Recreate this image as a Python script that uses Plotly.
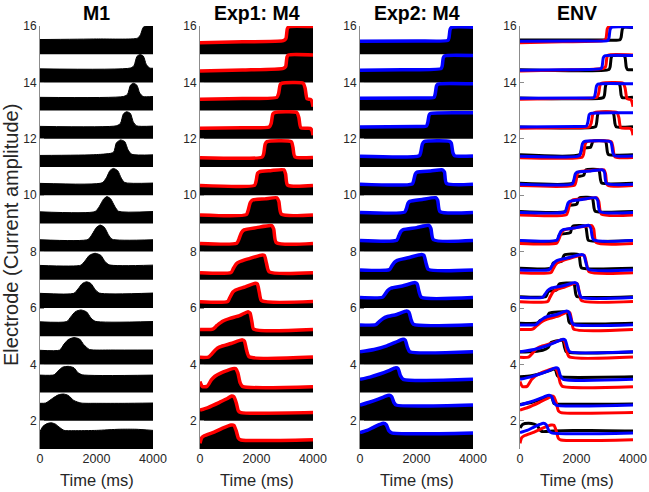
import plotly.graph_objects as go

# ---------------- data ----------------
ELECTRODES = [1, 2, 3, 4, 5, 6, 7, 8, 9, 10, 11, 12, 13, 14, 15]
PANEL_TITLES = ["M1", "Exp1: M4", "Exp2: M4", "ENV"]
X_TICKS = [0, 2000, 4000]
Y_TICKS = [2, 4, 6, 8, 10, 12, 14, 16]

# M1: filled activity per electrode (time in ms, level = fraction of the row)
M1_TIME = [
    [0, 100, 250, 400, 550, 700, 850, 1200, 2000, 2800, 3400, 4000],
    [0, 200, 450, 650, 830, 1000, 1200, 1450, 2000, 3000, 4000],
    [0, 500, 650, 800, 1000, 1200, 1350, 1500, 4000],
    [0, 700, 850, 1000, 1200, 1400, 1550, 1750, 2500, 4000],
    [0, 950, 1100, 1250, 1450, 1650, 1800, 1950, 4000],
    [0, 1200, 1350, 1500, 1650, 1800, 1950, 2100, 4000],
    [0, 1450, 1600, 1750, 1950, 2150, 2300, 2450, 4000],
    [0, 1700, 1850, 2000, 2130, 2280, 2420, 2550, 4000],
    [0, 1950, 2100, 2250, 2370, 2500, 2650, 2780, 4000],
    [0, 2200, 2350, 2480, 2600, 2750, 2880, 3000, 4000],
    [0, 2000, 2600, 2700, 2850, 3000, 3120, 3250, 4000],
    [0, 2700, 2850, 2950, 3070, 3200, 3300, 3420, 4000],
    [0, 2950, 3100, 3200, 3310, 3430, 3530, 3650, 4000],
    [0, 3200, 3330, 3430, 3540, 3660, 3760, 3880, 4000],
    [0, 2000, 3450, 3560, 3650, 3750, 4000],
]
M1_LEVEL = [
    [0.62, 0.80, 0.90, 0.93, 0.88, 0.76, 0.66, 0.65, 0.66, 0.70, 0.70, 0.66],
    [0.62, 0.63, 0.80, 0.92, 0.95, 0.90, 0.72, 0.63, 0.62, 0.62, 0.63],
    [0.62, 0.63, 0.78, 0.90, 0.93, 0.88, 0.70, 0.63, 0.62],
    [0.50, 0.51, 0.72, 0.88, 0.95, 0.90, 0.70, 0.53, 0.51, 0.51],
    [0.51, 0.52, 0.70, 0.87, 0.93, 0.86, 0.65, 0.53, 0.52],
    [0.52, 0.52, 0.68, 0.87, 0.93, 0.87, 0.66, 0.53, 0.53],
    [0.51, 0.52, 0.68, 0.87, 0.94, 0.87, 0.65, 0.53, 0.52],
    [0.42, 0.43, 0.62, 0.86, 0.94, 0.86, 0.60, 0.44, 0.42],
    [0.41, 0.42, 0.60, 0.86, 0.95, 0.87, 0.60, 0.43, 0.42],
    [0.42, 0.44, 0.62, 0.88, 0.95, 0.87, 0.60, 0.45, 0.43],
    [0.41, 0.44, 0.52, 0.85, 0.96, 0.90, 0.60, 0.45, 0.43],
    [0.44, 0.46, 0.55, 0.88, 0.96, 0.90, 0.60, 0.46, 0.45],
    [0.47, 0.50, 0.58, 0.90, 0.97, 0.90, 0.62, 0.50, 0.50],
    [0.48, 0.51, 0.60, 0.92, 0.99, 0.93, 0.64, 0.51, 0.50],
    [0.52, 0.54, 0.57, 0.70, 0.95, 1.00, 1.00],
]

# Exp1: M4 (red envelope, filled black underneath)
EXP1_TIME = [
    [0, 60, 150, 500, 800, 1100, 1200, 1280, 1360, 1450, 4000],
    [0, 300, 700, 950, 1120, 1200, 1280, 1360, 1450, 4000],
    [0, 80, 250, 400, 530, 750, 950, 1150, 1260, 1340, 1420, 1500, 4000],
    [0, 300, 400, 550, 700, 1100, 1500, 1570, 1650, 1740, 4000],
    [0, 450, 600, 800, 1060, 1400, 1700, 1770, 1840, 1900, 4000],
    [0, 980, 1060, 1160, 1260, 1600, 1950, 2030, 2100, 2180, 4000],
    [0, 1100, 1180, 1280, 1380, 1700, 2200, 2280, 2350, 2450, 4000],
    [0, 1300, 1380, 1470, 1560, 2000, 2540, 2610, 2700, 4000],
    [0, 1640, 1700, 1780, 1860, 2300, 2720, 2790, 2880, 4000],
    [0, 1930, 1980, 2040, 2100, 2500, 2970, 3030, 3100, 4000],
    [0, 2200, 2250, 2310, 2370, 3230, 3290, 3360, 4000],
    [0, 1500, 2450, 2520, 2580, 2640, 3430, 3500, 3570, 3900, 3960, 4000],
    [0, 1500, 2720, 2780, 2840, 2900, 3650, 3720, 3790, 3900, 3950, 4000],
    [0, 1500, 2950, 3030, 3080, 3130, 4000],
    [0, 1500, 2950, 3040, 3090, 3140, 4000],
]
EXP1_LEVEL = [
    [0.20, 0.40, 0.47, 0.60, 0.74, 0.85, 0.84, 0.65, 0.38, 0.32, 0.33],
    [0.38, 0.48, 0.66, 0.78, 0.88, 0.85, 0.65, 0.35, 0.29, 0.29],
    [0.39, 0.22, 0.22, 0.45, 0.58, 0.70, 0.78, 0.85, 0.85, 0.70, 0.35, 0.22, 0.21],
    [0.25, 0.26, 0.35, 0.52, 0.62, 0.74, 0.87, 0.83, 0.50, 0.27, 0.26],
    [0.24, 0.25, 0.38, 0.53, 0.63, 0.73, 0.87, 0.82, 0.50, 0.25, 0.24],
    [0.22, 0.23, 0.38, 0.56, 0.64, 0.75, 0.88, 0.85, 0.55, 0.26, 0.23],
    [0.25, 0.26, 0.40, 0.56, 0.63, 0.74, 0.88, 0.86, 0.60, 0.28, 0.25],
    [0.29, 0.30, 0.45, 0.68, 0.77, 0.85, 0.92, 0.80, 0.32, 0.29],
    [0.30, 0.31, 0.45, 0.74, 0.83, 0.87, 0.91, 0.78, 0.33, 0.30],
    [0.34, 0.35, 0.48, 0.78, 0.83, 0.87, 0.90, 0.75, 0.36, 0.34],
    [0.33, 0.35, 0.45, 0.82, 0.90, 0.90, 0.70, 0.36, 0.34],
    [0.37, 0.39, 0.42, 0.55, 0.88, 0.93, 0.93, 0.75, 0.39, 0.37, 0.30, 0.13],
    [0.40, 0.43, 0.47, 0.60, 0.92, 0.97, 0.97, 0.80, 0.42, 0.40, 0.35, 0.14],
    [0.40, 0.44, 0.50, 0.56, 0.90, 0.97, 0.97],
    [0.41, 0.44, 0.48, 0.55, 0.90, 0.97, 0.98],
]

# Exp2: M4 (blue envelope, filled black underneath)
EXP2_TIME = [
    [0, 250, 480, 700, 830, 930, 1020, 1120, 4000],
    [0, 300, 600, 850, 1030, 1120, 1200, 1280, 4000],
    [0, 350, 700, 1000, 1270, 1350, 1430, 1530, 4000],
    [0, 500, 950, 1250, 1520, 1600, 1680, 1760, 4000],
    [0, 560, 680, 820, 950, 1300, 1650, 1730, 1810, 1890, 4000],
    [0, 800, 880, 980, 1090, 1500, 1950, 2020, 2090, 2170, 4000],
    [0, 1040, 1120, 1220, 1320, 1700, 2180, 2260, 2340, 2420, 4000],
    [0, 1300, 1370, 1450, 1530, 2000, 2440, 2510, 2600, 4000],
    [0, 1580, 1640, 1700, 1760, 2200, 2680, 2750, 2830, 4000],
    [0, 1850, 1900, 1960, 2020, 2500, 2920, 2990, 3060, 4000],
    [0, 2100, 2150, 2210, 2270, 3170, 3230, 3290, 3350, 4000],
    [0, 2000, 2350, 2400, 2450, 2510, 4000],
    [0, 2000, 2620, 2660, 2710, 2760, 4000],
    [0, 1500, 2870, 2910, 2950, 3000, 4000],
    [0, 2000, 3110, 3150, 3190, 3240, 4000],
]
EXP2_LEVEL = [
    [0.58, 0.66, 0.77, 0.87, 0.91, 0.86, 0.65, 0.57, 0.57],
    [0.56, 0.65, 0.75, 0.85, 0.91, 0.86, 0.65, 0.56, 0.56],
    [0.47, 0.55, 0.66, 0.77, 0.88, 0.85, 0.60, 0.47, 0.47],
    [0.45, 0.53, 0.66, 0.78, 0.89, 0.86, 0.60, 0.45, 0.45],
    [0.40, 0.41, 0.52, 0.63, 0.69, 0.77, 0.89, 0.85, 0.58, 0.42, 0.41],
    [0.37, 0.38, 0.48, 0.62, 0.70, 0.78, 0.90, 0.86, 0.58, 0.38, 0.37],
    [0.35, 0.36, 0.48, 0.62, 0.69, 0.78, 0.90, 0.87, 0.58, 0.37, 0.35],
    [0.39, 0.40, 0.55, 0.72, 0.78, 0.85, 0.93, 0.82, 0.42, 0.39],
    [0.39, 0.40, 0.52, 0.72, 0.78, 0.85, 0.91, 0.82, 0.42, 0.39],
    [0.39, 0.40, 0.52, 0.76, 0.82, 0.86, 0.90, 0.82, 0.42, 0.39],
    [0.38, 0.40, 0.52, 0.82, 0.90, 0.91, 0.85, 0.50, 0.40, 0.39],
    [0.42, 0.44, 0.45, 0.58, 0.85, 0.90, 0.92],
    [0.44, 0.45, 0.47, 0.58, 0.88, 0.94, 0.95],
    [0.43, 0.45, 0.49, 0.58, 0.88, 0.94, 0.95],
    [0.46, 0.47, 0.49, 0.58, 0.88, 0.95, 0.96],
]

# ENV: black envelope (red = Exp1 envelope, blue = Exp2 envelope)
ENV_BLACK_TIME = [
    [0, 100, 300, 500, 620, 700, 780, 1200, 2500, 4000],
    [0, 400, 800, 1000, 1080, 1140, 1200, 1260, 4000],
    [0, 400, 800, 1100, 1200, 1260, 1320, 1380, 4000],
    [0, 500, 800, 1000, 1100, 1450, 1520, 1580, 1640, 4000],
    [0, 620, 720, 950, 990, 1040, 1650, 1690, 1730, 1770, 4000],
    [0, 920, 1000, 1300, 1340, 1390, 1890, 1930, 1970, 2010, 4000],
    [0, 1100, 1180, 1480, 1520, 1570, 2060, 2100, 2140, 2180, 4000],
    [0, 1320, 1400, 1780, 1820, 1870, 2300, 2340, 2380, 2420, 4000],
    [0, 1620, 1700, 2010, 2050, 2100, 2540, 2580, 2620, 2660, 4000],
    [0, 1880, 1960, 2250, 2290, 2340, 2770, 2810, 2850, 2890, 4000],
    [0, 2120, 2200, 2500, 2540, 2590, 3010, 3050, 3090, 3130, 4000],
    [0, 2670, 2710, 2750, 2790, 3280, 3320, 3360, 3400, 4000],
    [0, 2950, 2990, 3030, 3070, 3500, 3540, 3580, 3620, 4000],
    [0, 3150, 3190, 3230, 3270, 3680, 3720, 3760, 3800, 4000],
    [0, 3000, 3540, 3580, 3620, 3660, 4000],
]
ENV_BLACK_LEVEL = [
    [0.75, 0.88, 0.91, 0.88, 0.82, 0.68, 0.62, 0.64, 0.66, 0.64],
    [0.58, 0.65, 0.78, 0.85, 0.86, 0.80, 0.62, 0.60, 0.60],
    [0.56, 0.60, 0.70, 0.80, 0.84, 0.80, 0.60, 0.56, 0.56],
    [0.44, 0.46, 0.50, 0.60, 0.78, 0.86, 0.84, 0.60, 0.45, 0.44],
    [0.46, 0.47, 0.56, 0.62, 0.74, 0.82, 0.86, 0.78, 0.52, 0.46, 0.46],
    [0.40, 0.41, 0.58, 0.64, 0.76, 0.85, 0.88, 0.80, 0.52, 0.41, 0.40],
    [0.41, 0.42, 0.60, 0.66, 0.78, 0.88, 0.90, 0.82, 0.52, 0.42, 0.41],
    [0.38, 0.39, 0.60, 0.67, 0.80, 0.90, 0.91, 0.84, 0.55, 0.40, 0.39],
    [0.42, 0.43, 0.62, 0.68, 0.80, 0.90, 0.91, 0.84, 0.55, 0.43, 0.42],
    [0.42, 0.43, 0.64, 0.70, 0.80, 0.90, 0.91, 0.84, 0.55, 0.43, 0.42],
    [0.43, 0.44, 0.66, 0.70, 0.80, 0.92, 0.92, 0.85, 0.55, 0.44, 0.43],
    [0.42, 0.43, 0.55, 0.86, 0.93, 0.93, 0.86, 0.55, 0.43, 0.43],
    [0.45, 0.46, 0.55, 0.88, 0.95, 0.95, 0.88, 0.55, 0.46, 0.47],
    [0.45, 0.46, 0.55, 0.88, 0.95, 0.95, 0.88, 0.55, 0.46, 0.45],
    [0.50, 0.50, 0.51, 0.60, 0.88, 0.95, 0.95],
]

# ---------------- layout geometry (target pixel positions in the picture) ----------------
W, H = 649, 492
PANEL_PX = [(40, 153), (200, 313), (360, 473), (520, 633)]
TOP_PX, BOT_PX = 26, 449
FONT = "Liberation Sans, Arial, Helvetica, sans-serif"
TXT = "#262626"
AXC = "#8c8c8c"


def px_x(x):
    return x / W


def px_y(y):
    return (H - y) / H


fig = go.Figure()


def axes(p):
    return ("x" if p == 1 else f"x{p}", "y" if p == 1 else f"y{p}")


def add_fill(p, k, t, v, edge_w=0.0):
    xa, ya = axes(p)
    fig.add_trace(go.Scatter(x=[t[0], t[-1]], y=[k, k], mode="lines",
                             line=dict(width=0, color="rgba(0,0,0,0)"),
                             xaxis=xa, yaxis=ya, hoverinfo="skip", showlegend=False))
    fig.add_trace(go.Scatter(x=t, y=[k + a for a in v], mode="lines", fill="tonexty",
                             fillcolor="black",
                             line=dict(color="black", width=edge_w, shape="spline", smoothing=0.6),
                             xaxis=xa, yaxis=ya, hoverinfo="skip", showlegend=False))


def add_line(p, k, t, v, color, w):
    xa, ya = axes(p)
    fig.add_trace(go.Scatter(x=t, y=[k + a for a in v], mode="lines",
                             line=dict(color=color, width=w, shape="spline", smoothing=0.6),
                             xaxis=xa, yaxis=ya, hoverinfo="skip", showlegend=False))


for i, k in enumerate(ELECTRODES):
    add_fill(1, k, M1_TIME[i], M1_LEVEL[i], edge_w=1.0)
    add_fill(2, k, EXP1_TIME[i], EXP1_LEVEL[i])
    add_fill(3, k, EXP2_TIME[i], EXP2_LEVEL[i])
for i, k in enumerate(ELECTRODES):
    add_line(2, k, EXP1_TIME[i], EXP1_LEVEL[i], "#ff0000", 3.5)
    add_line(3, k, EXP2_TIME[i], EXP2_LEVEL[i], "#0000ff", 3.5)
for i, k in enumerate(ELECTRODES):
    add_line(4, k, ENV_BLACK_TIME[i], ENV_BLACK_LEVEL[i], "black", 3)
for i, k in enumerate(ELECTRODES):
    add_line(4, k, EXP1_TIME[i], EXP1_LEVEL[i], "#ff0000", 3)
for i, k in enumerate(ELECTRODES):
    add_line(4, k, EXP2_TIME[i], EXP2_LEVEL[i], "#0000ff", 3)

ydom = [px_y(BOT_PX), px_y(TOP_PX)]
layout = dict(width=W, height=H, margin=dict(l=0, r=0, t=0, b=0, autoexpand=False),
              paper_bgcolor="white", plot_bgcolor="white", showlegend=False,
              font=dict(family=FONT, color=TXT))
annotations = []
for p, (x0, x1) in enumerate(PANEL_PX, start=1):
    xk = "xaxis" if p == 1 else f"xaxis{p}"
    yk = "yaxis" if p == 1 else f"yaxis{p}"
    xa, ya = axes(p)
    layout[xk] = dict(domain=[px_x(x0), px_x(x1)], range=[0, 4000], tickvals=X_TICKS,
                      ticktext=[str(v) for v in X_TICKS], ticks="", showline=False,
                      showgrid=False, zeroline=False, anchor=ya, automargin=False,
                      tickfont=dict(size=12.5, color=TXT, family=FONT))
    layout[yk] = dict(domain=ydom, range=[1, 16], tickvals=Y_TICKS,
                      ticktext=[str(v) for v in Y_TICKS], ticks="inside", ticklen=4,
                      tickcolor=AXC, showline=True, linecolor=AXC, linewidth=1,
                      showgrid=False, zeroline=False, anchor=xa, automargin=False,
                      tickfont=dict(size=12, color=TXT, family=FONT))
    cx = px_x((x0 + x1) / 2)
    annotations.append(dict(text="<b>" + PANEL_TITLES[p - 1] + "</b>", x=cx, y=px_y(13),
                            xref="paper", yref="paper", showarrow=False,
                            xanchor="center", yanchor="middle",
                            font=dict(size=19.5, color="black", family=FONT)))
    annotations.append(dict(text="Time (ms)", x=cx, y=px_y(480),
                            xref="paper", yref="paper", showarrow=False,
                            xanchor="center", yanchor="middle",
                            font=dict(size=16.5, color=TXT, family=FONT)))
annotations.append(dict(text="Electrode (Current amplitude)", x=px_x(11), y=px_y(235),
                        xref="paper", yref="paper", showarrow=False, textangle=-90,
                        xanchor="center", yanchor="middle",
                        font=dict(size=20, color=TXT, family=FONT)))
layout["annotations"] = annotations
fig.update_layout(**layout)
fig.write_html("out.html",
               config={"displayModeBar": False, "staticPlot": True},
               post_script="document.body.style.margin='0px';document.body.style.overflow='hidden';")
